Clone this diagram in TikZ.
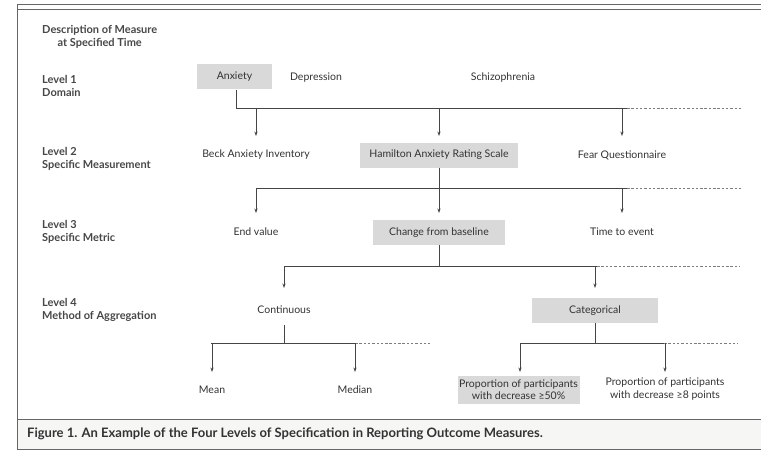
\documentclass[tikz,border=0pt]{standalone}
\usepackage{fontspec}
\setmainfont{Lato}
\usetikzlibrary{arrows.meta}
\definecolor{ink}{HTML}{333333}
\definecolor{linec}{HTML}{454545}
\definecolor{boxfill}{HTML}{D9D9D9}
\definecolor{capfill}{HTML}{F6F6F4}
\begin{document}
\begin{tikzpicture}[x=1pt,y=-1pt,
  every node/.style={text=ink,font=\fontsize{10.5}{12.5}\selectfont,inner sep=0pt},
  item/.style={align=center},
  hibox/.style={item,fill=boxfill,minimum height=25},
  lvl/.style={anchor=west,align=left,font=\fontsize{11}{12.5}\selectfont\bfseries,text=ink!90},
  conn/.style={draw=linec,line width=0.9pt},
  more/.style={draw=linec!70,line width=0.8pt,dash pattern=on 2.5pt off 1.8pt},
  tip/.style={conn,-{Stealth[length=4.5pt,width=3.2pt]}},
  frame/.style={draw=black!60,line width=0.8pt}]
\useasboundingbox (0,0) rectangle (761,452);

% outer frame and caption strip
\fill[capfill] (17,419) rectangle (761,449);
\draw[frame] (761,4) -- (17,4) -- (17,449) -- (761,449);
\draw[frame] (17,9) -- (761,9);
\draw[frame] (17,419) -- (761,419);
\node[anchor=west,font=\fontsize{13}{15}\selectfont\bfseries] (cap) at (27,434)
  {Figure 1. An Example of the Four Levels of Specification in Reporting Outcome Measures.};

% level labels on the left
\node[anchor=north west,align=center,font=\fontsize{11}{13}\selectfont\bfseries,text=ink!90] (desc) at (42,25)
  {Description of Measure\\at Specified Time};
\node[lvl] (l1) at (42,86) {Level 1\\Domain};
\node[lvl] (l2) at (42,159) {Level 2\\Specific Measurement};
\node[lvl] (l3) at (42,232) {Level 3\\Specific Metric};
\node[lvl] (l4) at (42,310) {Level 4\\Method of Aggregation};

% level 1: domain
\node[hibox,minimum width=75] (anx) at (234.5,77) {Anxiety};
\node[item] (dep) at (316,78) {Depression};
\node[item] (sch) at (503,78) {Schizophrenia};

% level 2: specific measurement
\node[item] (beck) at (256,155) {Beck Anxiety Inventory};
\node[hibox,minimum width=158] (ham) at (439,155) {Hamilton Anxiety Rating Scale};
\node[item] (fear) at (622,155) {Fear Questionnaire};

% level 3: specific metric
\node[item] (endv) at (256,232) {End value};
\node[hibox,minimum width=132] (chg) at (439,232.5) {Change from baseline};
\node[item] (tte) at (622,232) {Time to event};

% level 4: method of aggregation
\node[item] (cont) at (284,310) {Continuous};
\node[hibox,minimum width=126] (cat) at (595,310.5) {Categorical};

% outcome measures
\node[item] (mean) at (212,390) {Mean};
\node[item] (med) at (355,390) {Median};
\node[hibox,minimum width=122,minimum height=28] (p50) at (518.5,389.5)
  {Proportion of participants\\with decrease ≥50\%};
\node[item] (p8) at (665,389) {Proportion of participants\\with decrease ≥8 points};

% bus lines and arrow ends
\coordinate (b1) at (236,108);  \coordinate (b1r) at (627,108); \coordinate (b1e) at (742,108);
\coordinate (a1) at (0,136);
\coordinate (b2) at (256,188);  \coordinate (b2r) at (627,188); \coordinate (b2e) at (742,188);
\coordinate (a2) at (0,213);
\coordinate (b3) at (284,266);  \coordinate (b3r) at (597,266); \coordinate (b3e) at (740,266);
\coordinate (a3) at (0,288);
\coordinate (b4) at (211,343);  \coordinate (b4r) at (355,343); \coordinate (b4e) at (430,343);
\coordinate (b5) at (520,343);  \coordinate (b5r) at (664,343); \coordinate (b5e) at (738,343);
\coordinate (a4) at (0,372);
\coordinate (cdrop) at (284,325);

% domain to measurements
\draw[conn] (anx.south -| b1) -- (b1) -- (b1r);
\draw[more] (b1r) -- (b1e);
\draw[tip] (beck |- b1) -- (beck |- a1);
\draw[tip] (ham |- b1) -- (ham |- a1);
\draw[tip] (fear |- b1) -- (fear |- a1);

% measurement to metrics
\draw[conn] (ham.south) -- (ham |- b2);
\draw[conn] (b2) -- (b2r);
\draw[more] (b2r) -- (b2e);
\draw[tip] (endv |- b2) -- (endv |- a2);
\draw[tip] (chg |- b2) -- (chg |- a2);
\draw[tip] (tte |- b2) -- (tte |- a2);

% metric to aggregation
\draw[conn] (chg.south) -- (chg |- b3);
\draw[conn] (b3) -- (b3r);
\draw[more] (b3r) -- (b3e);
\draw[tip] (cont |- b3) -- (cont |- a3);
\draw[tip] (cat |- b3) -- (cat |- a3);

% continuous branch
\draw[conn] (cdrop) -- (cdrop |- b4);
\draw[conn] (b4) -- (b4r);
\draw[more] (b4r) -- (b4e);
\draw[tip] (mean |- b4) -- (mean |- a4);
\draw[tip] (med |- b4) -- (med |- a4);

% categorical branch
\draw[conn] (cat.south) -- (cat |- b5);
\draw[conn] (b5) -- (b5r);
\draw[more] (b5r) -- (b5e);
\draw[tip] (b5) -- (b5 |- a4);
\draw[tip] (p8 |- b5) -- (p8 |- a4);
\end{tikzpicture}
\end{document}
